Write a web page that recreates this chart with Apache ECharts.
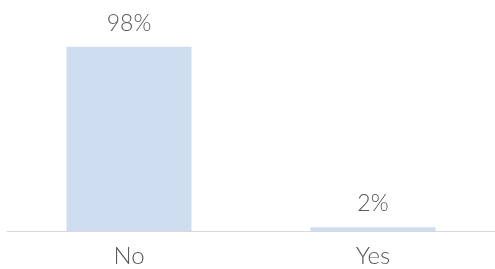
<!DOCTYPE html>
<html>
<head>
<meta charset="utf-8">
<script src="https://cdn.jsdelivr.net/npm/echarts@6/dist/echarts.min.js"></script>
<style>
  html, body { margin: 0; padding: 0; background: #fff; }
  #chart { width: 495px; height: 269px; }
</style>
</head>
<body>
<div id="chart"></div>
<script>
var categories = ['No', 'Yes'];
var values = [98, 2];

var chart = echarts.init(document.getElementById('chart'), null, { renderer: 'canvas' });
chart.setOption({
    animation: false,
    grid: { left: 7, right: -3, top: 43, bottom: 38 },
    xAxis: {
        type: 'category',
        data: categories,
        axisLine: { lineStyle: { color: '#d9d9d9', width: 1 } },
        axisTick: { show: false },
        axisLabel: { color: '#595959', fontSize: 24, fontFamily: 'Lato', fontWeight: 300, margin: 13 }
    },
    yAxis: {
        type: 'value',
        min: 0,
        max: 100,
        show: false,
        splitLine: { show: false }
    },
    series: [{
        type: 'bar',
        data: values,
        barWidth: 125,
        itemStyle: { color: '#cfddf0' },
        label: {
            show: true,
            position: 'top',
            distance: 12,
            formatter: '{c}%',
            color: '#595959',
            fontSize: 23,
            fontFamily: 'Lato',
            fontWeight: 300
        }
    }]
});
</script>
</body>
</html>
